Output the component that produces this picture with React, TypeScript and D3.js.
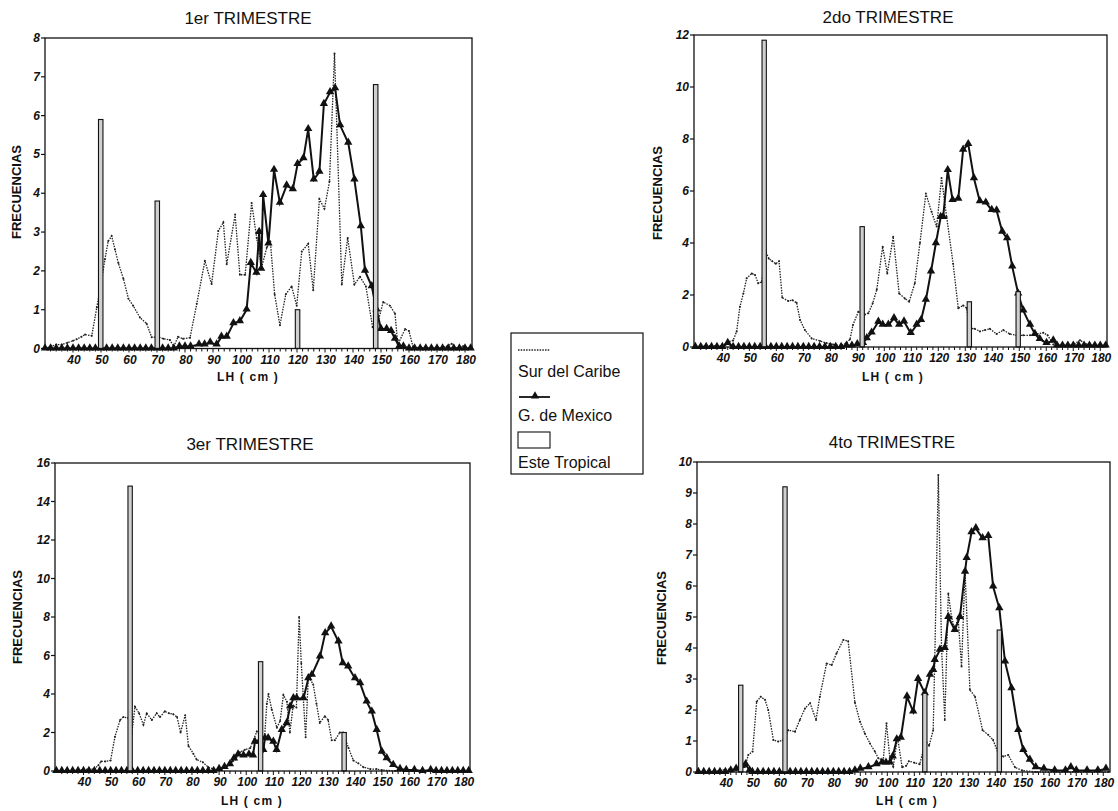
import React from "react";
import * as d3 from "d3";

type Pt = [number, number];

const titles = ["1er TRIMESTRE", "2do TRIMESTRE", "3er TRIMESTRE", "4to TRIMESTRE"];
const yMaxes = [8, 12, 16, 10];
const ySteps = [1, 2, 2, 1];
const xTickValues = [40, 50, 60, 70, 80, 90, 100, 110, 120, 130, 140, 150, 160, 170, 180];
const yAxisLabel = "FRECUENCIAS";
const xAxisLabel = "LH ( cm )";
const legendLabels = ["Sur del Caribe", "G. de Mexico", "Este Tropical"];

// ---- 1er trimestre ----
const surQ1: Pt[] = [
  [30, 0], [32, 0.05], [34, 0.1], [36, 0.1], [38, 0.15], [40, 0.2], [41.3, 0.24], [43, 0.3], [44.3, 0.36], [46.7, 0.33],
  [48.5, 1.06], [50.2, 1.74], [51.4, 2.3], [52.6, 2.77], [53.8, 2.9], [55, 2.55], [56.2, 2.2], [58, 1.8], [59.8, 1.28],
  [61.5, 1.1], [63.9, 0.8], [66.3, 0.64], [68.1, 0.29], [70.5, 0.3], [72.3, 0.25], [74.6, 0.22], [76, 0.05], [77.5, 0.3],
  [79.3, 0.25], [81.8, 0.28], [84.2, 1.15], [87.1, 2.26], [89.5, 1.66], [91.9, 3.03], [93.7, 3.25], [94.9, 2.17],
  [97.9, 3.45], [99.6, 1.9], [101.5, 1.9], [103.8, 3.75], [105.6, 2.85], [107.4, 2.1], [109.2, 2.6], [110.5, 2.75],
  [112, 1.4], [113.9, 0.6], [116, 1.4], [118.1, 1.6], [119.9, 1.1], [121.7, 2.5], [124, 2.7], [125.8, 1.5], [128, 3.85],
  [129.8, 3.6], [131.6, 4.3], [133.4, 7.6], [136, 1.65], [138.1, 2.85], [140.5, 1.65], [142.5, 1.85], [144.6, 1.6],
  [147, 0.55], [148.4, 0.55], [150.8, 1.2], [153.2, 1.1], [155, 0.9], [156, 0.1], [158.6, 0.5], [160, 0.45],
  [161.4, 0.05], [165, 0], [170, 0], [173.5, 0.05], [175.2, 0.12], [177, 0], [179.3, 0.06], [182, 0],
];
const mexQ1: Pt[] = [
  [30, 0], [32, 0], [34, 0], [36, 0], [38, 0], [40, 0], [42, 0], [44, 0], [46, 0], [48, 0], [50, 0], [52, 0], [54, 0],
  [56, 0], [58, 0], [60, 0], [62, 0], [64, 0], [66, 0], [68, 0], [70, 0], [72, 0], [74, 0], [76, 0], [78, 0.05],
  [80, 0.05], [82, 0.05], [85, 0.1], [87, 0.1], [89, 0.15], [91.3, 0.1], [93, 0.3], [94.9, 0.3], [97.3, 0.65],
  [99.6, 0.7], [102, 1.0], [103.5, 2.2], [105.5, 1.95], [106.5, 3.0], [107.2, 2.05], [107.9, 3.95], [109.8, 2.7],
  [111.8, 4.6], [113.9, 3.75], [116.3, 4.2], [118.5, 4.1], [120.2, 4.75], [122.3, 4.9], [124, 5.65], [126, 4.35],
  [128, 4.55], [129.6, 6.3], [131.8, 6.6], [133.6, 6.7], [135.4, 5.75], [138.3, 5.3], [140.5, 4.35], [142.8, 3.15],
  [144.3, 2.0], [146.7, 1.6], [148.4, 1.0], [150, 0.5], [152, 0.5], [153.6, 0.45], [155, 0.25], [156.5, 0.05],
  [158, 0.05], [160, 0], [162, 0], [164, 0], [166, 0], [168, 0], [170, 0], [172, 0], [174, 0], [176, 0], [178, 0],
  [180, 0], [182, 0],
];
const esteQ1: Pt[] = [[49.9, 5.9], [70.1, 3.8], [120.2, 1.0], [148.1, 6.8]];

// ---- 2do trimestre ----
const surQ2: Pt[] = [
  [30, 0], [34, 0.05], [38, 0.05], [40, 0.05], [42.2, 0.2], [44, 0.25], [45.3, 0.6], [46.5, 1.55], [47.8, 2.06],
  [49, 2.64], [50.9, 2.83], [52.1, 2.77], [53.3, 2.45], [54.6, 2.5], [56, 3.7], [57.2, 3.4], [58.5, 3.3], [59.8, 3.2],
  [61, 3.3], [62.2, 1.9], [64.4, 1.77], [66, 1.8], [67.5, 1.7], [68.8, 1.04], [70.6, 0.65], [73.1, 0.33], [76.2, 0.23],
  [78.6, 0.15], [81.1, 0.1], [83.6, 0.05], [86, 0.15], [87.3, 0.3], [88.4, 0.85], [90.4, 1.36], [92.8, 1.25],
  [94.1, 1.3], [95.7, 1.68], [97.2, 2.2], [99.4, 3.86], [101.1, 2.83], [103.3, 4.24], [105.5, 2.06], [107.6, 1.87],
  [109.2, 1.74], [111.3, 2.45], [113.2, 4.0], [115.4, 5.9], [117.5, 5.2], [119.4, 4.63], [121.2, 6.5], [123.1, 5.0],
  [125.5, 3.2], [127.4, 1.49], [129.2, 1.6], [130.5, 1.5], [131.7, 0.72], [133.5, 0.7], [135.4, 0.6], [137.3, 0.65],
  [139.1, 0.7], [141.6, 0.5], [144.1, 0.65], [146.5, 0.5], [149, 0.45], [151.5, 0.45], [154, 0.45], [156.5, 0.5],
  [158.9, 0.55], [160.5, 0.45], [162.6, 0.1], [166, 0.05], [170, 0.1], [172.5, 0.26], [175, 0.1], [178, 0.05],
  [182, 0.05],
];
const mexQ2: Pt[] = [
  [30, 0], [32, 0], [34, 0], [36, 0], [38, 0], [40, 0], [42, 0.15], [44, 0], [46, 0], [48, 0], [50, 0], [52, 0],
  [54, 0], [56, 0], [58, 0], [60, 0], [62, 0], [64, 0], [66, 0], [68, 0], [70, 0], [72, 0], [74, 0], [76, 0], [78, 0],
  [80, 0], [82, 0], [84, 0], [86, 0.05], [88, 0.05], [90, 0.1], [92.1, 0.15], [93.5, 0.33], [95.3, 0.55], [97.8, 0.97],
  [99.4, 0.85], [101.5, 0.85], [103.6, 1.1], [105.5, 0.85], [107.3, 0.98], [109.8, 0.53], [112, 0.85], [113.6, 1.03],
  [115.4, 1.81], [117.3, 2.9], [119.1, 3.99], [120.9, 5.0], [121.8, 5.0], [123.5, 6.8], [125.3, 5.65], [127.4, 5.7],
  [129.2, 7.58], [131.1, 7.8], [133.2, 6.49], [135.4, 5.6], [137.6, 5.55], [139.8, 5.27], [141.6, 5.25], [143.7, 4.43],
  [145.5, 4.18], [147.4, 3.09], [149.6, 2.05], [151.5, 1.4], [154, 0.85], [155.8, 0.5], [157.6, 0.3], [160.1, 0.15],
  [162.6, 0.25], [164, 0.05], [166, 0.05], [168, 0.05], [170, 0.05], [172, 0.05], [174, 0.05], [176, 0.05], [178, 0.05],
  [180, 0.05], [182, 0.05],
];
const esteQ2: Pt[] = [[55.5, 11.8], [91.8, 4.63], [131.5, 1.74], [149.6, 2.13]];

// ---- 3er trimestre ----
const surQ3: Pt[] = [
  [30, 0], [34, 0], [38, 0.05], [42, 0.1], [44, 0.1], [45.5, 0.3], [46.5, 0.5], [48, 0.5], [50, 0.55], [51.6, 1.78],
  [53.5, 2.65], [54.7, 2.8], [56.5, 2.75], [57.8, 1.96], [59, 3.34], [60.5, 3.0], [62.1, 2.4], [63.3, 3.0], [65.2, 2.65],
  [67, 3.0], [68.2, 2.8], [70, 3.1], [71.5, 3.0], [73.1, 2.95], [74.5, 2.8], [75.8, 2.0], [77.5, 2.9], [78.7, 1.3],
  [80.5, 0.9], [81.7, 0.6], [84, 0.45], [86, 0.2], [88, 0.1], [90, 0.05], [92, 0.15], [94, 0.35], [96, 0.6],
  [97.7, 0.98], [99.5, 1.1], [101.5, 1.2], [103.9, 2.05], [105.8, 1.75], [106.5, 1.2], [107.6, 3.5], [108.2, 4.0],
  [109.4, 3.2], [111.3, 2.25], [112.5, 2.6], [113.7, 3.95], [115, 3.6], [116.1, 2.0], [117.3, 3.4], [118.5, 3.3],
  [119.5, 8.0], [120.3, 5.6], [121.9, 1.75], [122.9, 4.9], [124.7, 4.5], [125.9, 3.5], [127.1, 2.5], [129, 2.85],
  [130.2, 2.65], [131.5, 1.6], [132.7, 1.6], [134.5, 2.0], [135.7, 2.0], [137.7, 1.2], [139.5, 0.55], [141.3, 0.4],
  [143.2, 0.2], [145.7, 0.1], [148, 0.1], [150, 0.05], [155, 0], [182, 0],
];
const mexQ3: Pt[] = [
  [30, 0], [32, 0], [34, 0], [36, 0], [38, 0], [40, 0], [42, 0], [44, 0], [46, 0], [48, 0], [50, 0], [52, 0], [54, 0],
  [56, 0], [58, 0], [60, 0], [62, 0], [64, 0], [66, 0], [68, 0], [70, 0], [72, 0], [74, 0], [76, 0], [78, 0], [80, 0],
  [82, 0], [84, 0], [86, 0], [88, 0], [90, 0.1], [92, 0.2], [94, 0.35], [95.5, 0.65], [97, 0.85], [99, 0.8], [101, 0.85],
  [102.5, 0.8], [103.2, 1.52], [104.8, 1.52], [106.3, 1.09], [106.9, 1.7], [108.1, 1.7], [110, 1.52], [111.2, 1.09],
  [113.1, 2.13], [114.9, 2.48], [116.2, 3.34], [117.4, 3.77], [118.6, 3.77], [121.1, 3.77], [122.9, 4.81], [124.2, 4.99],
  [127.2, 5.94], [129.1, 7.15], [131.3, 7.5], [134, 6.72], [135.6, 5.59], [137.6, 5.42], [140.1, 4.81], [142, 4.55],
  [144.4, 3.6], [146.3, 3.08], [148.1, 2.13], [150, 1.0], [151.8, 0.66], [154.2, 0.31], [156.7, 0.1], [159, 0.05],
  [162, 0.05], [165, 0], [168, 0.05], [170, 0], [172, 0], [174, 0], [176, 0], [178, 0], [180, 0], [182, 0],
];
const esteQ3: Pt[] = [[57.2, 14.8], [105.3, 5.68], [136.1, 2.0]];

// ---- 4to trimestre ----
const surQ4: Pt[] = [
  [30, 0], [34, 0], [38, 0.05], [42, 0.1], [44, 0.05], [46, 0.1], [47.3, 0.17], [48.5, 0.55], [50.1, 0.66],
  [51.6, 2.27], [53.1, 2.43], [54.7, 2.33], [55.9, 2.0], [57.8, 1.03], [59.6, 0.98], [61.5, 1.03], [63.3, 1.35],
  [65.8, 1.3], [67.6, 1.68], [69.5, 2.05], [71.4, 2.22], [73.6, 1.68], [75, 2.43], [77.5, 3.5], [79.4, 3.45],
  [81.2, 3.83], [83.7, 4.26], [85.5, 4.22], [88, 2.24], [89.9, 1.62], [91.7, 1.24], [93.6, 0.92], [95.4, 0.66],
  [96.7, 0.44], [98.5, 0.38], [99.7, 1.57], [101, 0.38], [102.2, 0.17], [103.8, 1.12], [105.5, 0.15], [107, 0.2],
  [108, 0.35], [110, 0.3], [112, 0.25], [114.2, 1.0], [115.5, 0.85], [117, 1.35], [117.6, 3.7], [118.9, 9.58],
  [120.1, 4.0], [121.3, 1.68], [122.6, 5.76], [123.8, 5.0], [125, 4.58], [126.2, 5.0], [127.5, 3.4], [128.8, 6.46],
  [130.6, 2.65], [132.5, 2.43], [135.3, 1.35], [137.4, 1.2], [139.2, 1.03], [141.1, 0.6], [143, 0.5], [144.8, 0.55],
  [147.3, 0.15], [150, 0.05], [155, 0], [182, 0],
];
const mexQ4: Pt[] = [
  [30, 0], [32, 0], [34, 0], [36, 0], [38, 0], [40, 0], [42, 0.05], [44, 0.1], [46, 0.2], [47.5, 0.25], [49, 0.05],
  [50, 0], [52, 0], [54, 0], [56, 0], [58, 0], [60, 0], [62, 0], [64, 0], [66, 0], [68, 0], [70, 0], [72, 0], [74, 0],
  [76, 0], [78, 0], [80, 0], [82, 0], [84, 0], [86, 0], [88, 0.05], [90, 0.1], [93, 0.15], [96, 0.25], [98, 0.3],
  [99.5, 0.3], [101, 0.3], [102, 0.5], [103.5, 1.05], [105, 1.1], [107.3, 2.43], [109.6, 1.95], [111.4, 3.0],
  [113.9, 2.54], [115.8, 3.13], [117, 3.29], [117.6, 3.61], [119.5, 3.94], [121.3, 4.0], [122.6, 5.0], [125, 4.58],
  [126.9, 5.0], [128.8, 6.46], [129.4, 6.9], [131.2, 7.73], [132.8, 7.86], [135.3, 7.54], [137.4, 7.61], [139.2, 5.98],
  [141.5, 5.28], [143.6, 3.56], [146, 2.7], [148.5, 1.35], [150.4, 0.71], [152.8, 0.39], [155, 0.15], [158, 0.1],
  [162, 0.05], [166, 0.05], [168, 0.15], [170, 0.05], [174, 0.05], [178, 0.05], [181, 0.1],
];
const esteQ4: Pt[] = [[45.7, 2.8], [62.1, 9.2], [113.9, 2.54], [141.5, 4.58]];

const surSeries = [surQ1, surQ2, surQ3, surQ4];
const mexSeries = [mexQ1, mexQ2, mexQ3, mexQ4];
const esteSeries = [esteQ1, esteQ2, esteQ3, esteQ4];

// ---- layout (pixels) ----
const layouts = [
  { left: 45, right: 472, top: 38, bottom: 348.5, xDom: [30, 182.5], titleX: 248, titleY: 24, ylabX: 17, ylabY: 192, lhX: 248, lhY: 381 },
  { left: 694, right: 1107, top: 35, bottom: 347, xDom: [29.5, 182.5], titleX: 888, titleY: 23, ylabX: 658, ylabY: 193, lhX: 893, lhY: 381 },
  { left: 55, right: 470, top: 463, bottom: 771, xDom: [29.5, 182.5], titleX: 250, titleY: 450, ylabX: 18, ylabY: 617, lhX: 252, lhY: 805 },
  { left: 697, right: 1110, top: 462, bottom: 772, xDom: [29.5, 182.5], titleX: 892, titleY: 448, ylabX: 662, ylabY: 618, lhX: 907, lhY: 805 },
];

const FONT = "'Liberation Sans', Arial, Helvetica, sans-serif";
const triPath = d3.symbol().type(d3.symbolTriangle).size(30)() as string;

function Panel({ i }: { i: number }) {
  const L = layouts[i];
  const x = d3.scaleLinear().domain(L.xDom).range([L.left, L.right]);
  const y = d3.scaleLinear().domain([0, yMaxes[i]]).range([L.bottom, L.top]);
  const line = d3.line<Pt>().x((d) => x(d[0])).y((d) => y(d[1]));
  const yTicks = d3.range(0, yMaxes[i] + 0.001, ySteps[i]);
  const minorTicks = d3.range(32, 182, 2);
  const barHalf = 0.8;
  return (
    <g>
      <text x={L.titleX} y={L.titleY} textAnchor="middle" fontSize={17} fontFamily={FONT} fill="#111">
        {titles[i]}
      </text>
      <text
        transform={`translate(${L.ylabX},${L.ylabY}) rotate(-90)`}
        textAnchor="middle"
        dominantBaseline="central"
        fontSize={12}
        fontWeight="bold"
        fontFamily={FONT}
        textLength={94}
        lengthAdjust="spacingAndGlyphs"
        fill="#111"
      >
        {yAxisLabel}
      </text>
      <text
        x={L.lhX}
        y={L.lhY}
        textAnchor="middle"
        fontSize={12}
        fontWeight="bold"
        fontFamily={FONT}
        letterSpacing={1.2}
        fill="#111"
        style={{ whiteSpace: "pre" }}
      >
        {xAxisLabel}
      </text>
      {/* y ticks */}
      {yTicks.map((t) => (
        <g key={`y${t}`}>
          <line x1={L.left - 4} x2={L.left} y1={y(t)} y2={y(t)} stroke="#111" strokeWidth={1.2} />
          <text
            x={L.left - 5}
            y={y(t) + 4}
            textAnchor="end"
            fontSize={12}
            fontWeight="bold"
            fontStyle="italic"
            fontFamily={FONT}
            fill="#111"
          >
            {t}
          </text>
        </g>
      ))}
      {/* x minor ticks */}
      {minorTicks.map((t) => (
        <line key={`m${t}`} x1={x(t)} x2={x(t)} y1={L.bottom} y2={L.bottom + (t % 10 === 0 ? 4 : 3)} stroke="#111" strokeWidth={1} />
      ))}
      {xTickValues.map((t) => (
        <text
          key={`x${t}`}
          x={x(t) + 1}
          y={L.bottom + 15}
          textAnchor="middle"
          fontSize={12}
          fontWeight="bold"
          fontStyle="italic"
          fontFamily={FONT}
          fill="#111"
        >
          {t}
        </text>
      ))}
      {/* Sur del Caribe */}
      <path d={line(surSeries[i]) || ""} fill="none" stroke="#222" strokeWidth={1.3} strokeDasharray="1.5 1.2" />
      {surSeries[i].map((d, k) => (
        <circle key={`s${k}`} cx={x(d[0])} cy={y(d[1])} r={1} fill="#222" />
      ))}
      {/* G. de Mexico */}
      <path d={line(mexSeries[i]) || ""} fill="none" stroke="#111" strokeWidth={2} />
      {mexSeries[i].map((d, k) => (
        <path key={`g${k}`} d={triPath} transform={`translate(${x(d[0])},${y(d[1]) - 0.5})`} fill="#111" />
      ))}
      {/* Este Tropical */}
      {esteSeries[i].map((d, k) => (
        <rect
          key={`b${k}`}
          x={x(d[0] - barHalf)}
          y={y(d[1])}
          width={x(d[0] + barHalf) - x(d[0] - barHalf)}
          height={y(0) - y(d[1])}
          fill="#cfcfcf"
          stroke="#111"
          strokeWidth={1.1}
        />
      ))}
      {/* frame */}
      <rect x={L.left} y={L.top} width={L.right - L.left} height={L.bottom - L.top} fill="none" stroke="#111" strokeWidth={1.3} />
    </g>
  );
}

function Legend() {
  const lx = 511, ly = 333, lw = 132, lh = 141;
  return (
    <g fontFamily={FONT} fill="#111">
      <rect x={lx} y={ly} width={lw} height={lh} fill="#fff" stroke="#111" strokeWidth={1.2} />
      <line x1={518} x2={550} y1={350} y2={350} stroke="#222" strokeWidth={1.3} strokeDasharray="1.5 1.2" />
      <text x={518} y={377} fontSize={16}>{legendLabels[0]}</text>
      <line x1={519} x2={550} y1={397} y2={397} stroke="#111" strokeWidth={1.8} />
      <path d={triPath} transform="translate(535,396)" fill="#111" />
      <text x={518} y={421} fontSize={16}>{legendLabels[1]}</text>
      <rect x={518} y={432} width={32} height={16} fill="#fff" stroke="#111" strokeWidth={1.1} />
      <text x={518} y={468} fontSize={16}>{legendLabels[2]}</text>
    </g>
  );
}

export default function App() {
  return (
    <svg width={1118} height={811} style={{ position: "absolute", left: 0, top: 0, background: "#fff" }}>
      <rect x={0} y={0} width={1118} height={811} fill="#fff" />
      {[0, 1, 2, 3].map((i) => (
        <Panel key={i} i={i} />
      ))}
      <Legend />
    </svg>
  );
}
